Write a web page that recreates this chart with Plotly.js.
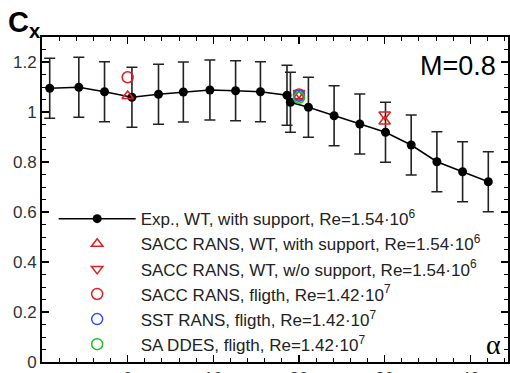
<!DOCTYPE html>
<html>
<head>
<meta charset="utf-8">
<script src="https://cdn.plot.ly/plotly-3.0.1.min.js"></script>
<style>html,body{margin:0;padding:0;background:#fff;}#chart{width:510px;height:373px;}</style>
</head>
<body>
<div id="chart"></div>
<script>
// Experimental data (wind tunnel, with support)
const expAlpha = [-9.1, -5.7, -2.7, 0.5, 3.6, 6.5, 9.6, 12.6, 15.5, 18.6, 19.0, 21.1, 24.1, 27.1, 30.1, 33.1, 36.1, 39.1, 42.1];
const expCx    = [1.095, 1.099, 1.081, 1.059, 1.071, 1.080, 1.088, 1.085, 1.081, 1.067, 1.039, 1.019, 0.985, 0.952, 0.919, 0.868, 0.801, 0.761, 0.721];
const expErr   = 0.12;

// SACC RANS, WT, with support
const saccWithAlpha = [0, 20, 30];
const saccWithCx    = [1.064, 1.064, 0.962];
// SACC RANS, WT, w/o support
const saccWoAlpha = [20, 30];
const saccWoCx    = [1.076, 0.990];
// SACC RANS, flight
const saccFlAlpha = [0, 20];
const saccFlCx    = [1.139, 1.070];
// SST RANS, flight
const sstAlpha = [20];
const sstCx    = [1.065];
// SA DDES, flight
const ddesAlpha = [20];
const ddesCx    = [1.057];

const xTickVals = [0, 10, 20, 30, 40];

const names = [
  'Exp., WT, with support, Re=1.54·10<sup>6</sup>',
  'SACC RANS, WT, with support, Re=1.54·10<sup>6</sup>',
  'SACC RANS, WT, w/o support, Re=1.54·10<sup>6</sup>',
  'SACC RANS, fligth, Re=1.42·10<sup>7</sup>',
  'SST RANS, fligth, Re=1.42·10<sup>7</sup>',
  'SA DDES, fligth, Re=1.42·10<sup>7</sup>'
];

const traces = [
  {x: expAlpha, y: expCx, name: names[0], mode: 'lines+markers', type: 'scatter',
   line: {color: '#000', width: 1.5},
   marker: {color: '#000', size: 9},
   error_y: {type: 'constant', value: expErr, color: '#222', thickness: 1.6, width: 5.5}},
  {x: saccWithAlpha, y: saccWithCx, name: names[1], mode: 'markers', type: 'scatter',
   marker: {symbol: 'triangle-up-open', color: '#e02020', size: 10, line: {width: 1.5}}},
  {x: saccWoAlpha, y: saccWoCx, name: names[2], mode: 'markers', type: 'scatter',
   marker: {symbol: 'triangle-down-open', color: '#e02020', size: 10, line: {width: 1.5}}},
  {x: saccFlAlpha, y: saccFlCx, name: names[3], mode: 'markers', type: 'scatter',
   marker: {symbol: 'circle-open', color: '#e02020', size: 11, line: {width: 1.5}}},
  {x: sstAlpha, y: sstCx, name: names[4], mode: 'markers', type: 'scatter',
   marker: {symbol: 'circle-open', color: '#3050ff', size: 11, line: {width: 1.5}}},
  {x: ddesAlpha, y: ddesCx, name: names[5], mode: 'markers', type: 'scatter',
   marker: {symbol: 'circle-open', color: '#20c020', size: 11, line: {width: 1.5}}}
];

const axisCommon = {
  showgrid: false, zeroline: false,
  showline: true, linecolor: '#000', linewidth: 2, mirror: 'ticks',
  ticks: 'inside', ticklen: 7, tickwidth: 1.5, tickcolor: '#000',
  tickfont: {family: 'Arial, Liberation Sans, sans-serif', size: 17, color: '#333'}
};

const layout = {
  width: 510, height: 373,
  margin: {l: 42, r: 2, t: 37, b: 11},
  paper_bgcolor: '#fff', plot_bgcolor: '#fff',
  showlegend: true,
  legend: {x: 0.025, y: 0.495, xanchor: 'left', yanchor: 'top', bgcolor: 'rgba(0,0,0,0)',
           itemwidth: 77, tracegroupgap: 0,
           font: {family: 'Arial, Liberation Sans, sans-serif', size: 17, color: '#222'}},
  xaxis: Object.assign({}, axisCommon, {range: [-10, 44.4], tickmode: 'array', tickvals: xTickVals,
    minor: {tickmode: 'linear', tick0: 0, dtick: 2, ticks: 'inside', ticklen: 4, tickcolor: '#000', tickwidth: 1}}),
  yaxis: Object.assign({}, axisCommon, {range: [0, 1.3], tick0: 0, dtick: 0.2,
    minor: {dtick: 0.05, ticks: 'inside', ticklen: 4, tickcolor: '#000', tickwidth: 1}}),
  annotations: [
    {xref: 'paper', yref: 'paper', x: -0.078, y: 1.10, xanchor: 'left', yanchor: 'top',
     text: '<b>C<sub>x</sub></b>', showarrow: false,
     font: {family: 'Arial, Liberation Sans, sans-serif', size: 29, color: '#000'}},
    {xref: 'paper', yref: 'paper', x: 0.978, y: 0.911, xanchor: 'right', yanchor: 'middle',
     text: 'M=0.8', showarrow: false,
     font: {family: 'Arial, Liberation Sans, sans-serif', size: 27, color: '#000'}},
    {xref: 'paper', yref: 'paper', x: 0.968, y: 0.055, xanchor: 'center', yanchor: 'middle',
     text: 'α', showarrow: false,
     font: {family: 'Liberation Serif, Times New Roman, serif', size: 28, color: '#000'}}
  ]
};

Plotly.newPlot('chart', traces, layout, {displayModeBar: false, staticPlot: true});
</script>
</body>
</html>
